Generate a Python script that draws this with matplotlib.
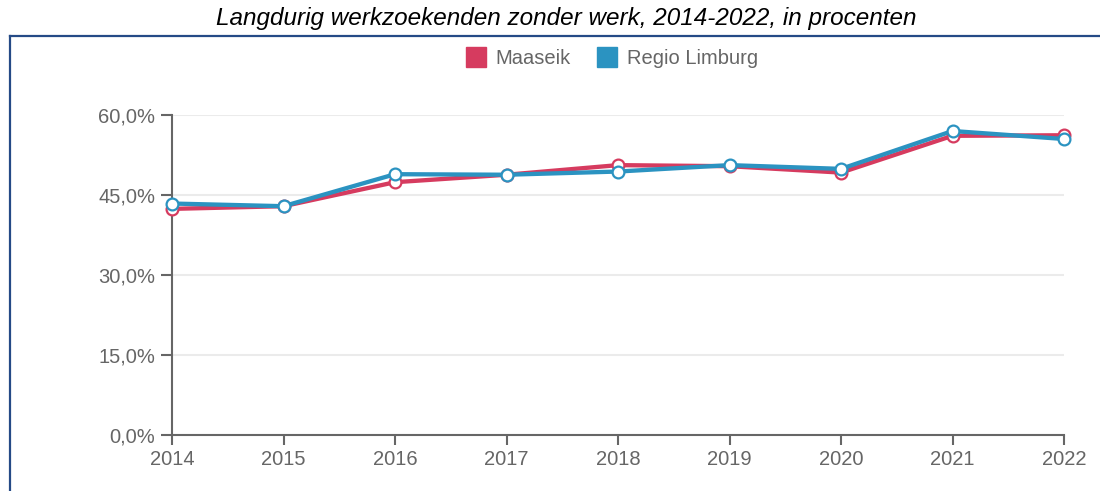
import matplotlib
matplotlib.use("Agg")
import matplotlib.pyplot as plt
from matplotlib.lines import Line2D
from matplotlib.ticker import FuncFormatter

years = [2014, 2015, 2016, 2017, 2018, 2019, 2020, 2021, 2022]
maaseik = [42.4, 42.9, 47.4, 48.8, 50.6, 50.4, 49.2, 56.1, 56.2]
regio_limburg = [43.4, 42.9, 48.9, 48.8, 49.4, 50.6, 49.9, 57.0, 55.5]
yticks = [0, 15, 30, 45, 60]

red = "#d63b5f"
blue = "#2b93c1"
grey = "#666666"

plt.rcParams['font.family'] = ['Liberation Sans', 'DejaVu Sans']

fig = plt.figure(figsize=(11, 4.91), dpi=100)
ax = fig.add_axes([172 / 1100, 56 / 491, (1064 - 172) / 1100, 320 / 491])

for vals, col in [(maaseik, red), (regio_limburg, blue)]:
    ax.plot(years, vals, color=col, lw=3.1, marker='o', ms=8.5,
            mfc='white', mec=col, mew=1.6, clip_on=False, zorder=3)

ax.set_xlim(2014, 2022)
ax.set_ylim(0, 60)
ax.set_xticks(years)
ax.set_yticks(yticks)
ax.yaxis.set_major_formatter(FuncFormatter(lambda v, p: f"{v:.1f}%".replace('.', ',')))
ax.grid(axis='y', color='#ebebeb', lw=1.5)
ax.set_axisbelow(True)
for s in ['top', 'right']:
    ax.spines[s].set_visible(False)
for s in ['left', 'bottom']:
    ax.spines[s].set_color(grey)
    ax.spines[s].set_linewidth(1.5)
ax.tick_params(colors=grey, labelsize=14.5, length=7, width=1.5)
ax.tick_params(axis='x', pad=3.5)
ax.tick_params(axis='y', length=8, pad=4)

# legend
handles = [Line2D([], [], ls='none', marker='s', ms=14.5, mfc=red, mec=red),
           Line2D([], [], ls='none', marker='s', ms=14.5, mfc=blue, mec=blue)]
fig.legend(handles, ['Maaseik', 'Regio Limburg'], loc='center',
           bbox_to_anchor=(612 / 1100, 1 - 59 / 491), ncol=2, frameon=False,
           fontsize=14.5, labelcolor=grey, handletextpad=0.5, columnspacing=1.3,
           handlelength=1.0)

# title
fig.text(566 / 1100, 1 - 18 / 491, "Langdurig werkzoekenden zonder werk, 2014-2022, in procenten",
         ha='center', va='center', fontsize=17.5, style='italic', color='black')

# frame lines (top and left)
frame_col = "#254a86"
fig.add_artist(Line2D([9.5 / 1100, 1.0], [1 - 35.5 / 491, 1 - 35.5 / 491],
                      transform=fig.transFigure, color=frame_col, lw=1.6))
fig.add_artist(Line2D([9.5 / 1100, 9.5 / 1100], [0, 1 - 35.5 / 491],
                      transform=fig.transFigure, color=frame_col, lw=1.6))

fig.savefig("out.png", dpi=100)
